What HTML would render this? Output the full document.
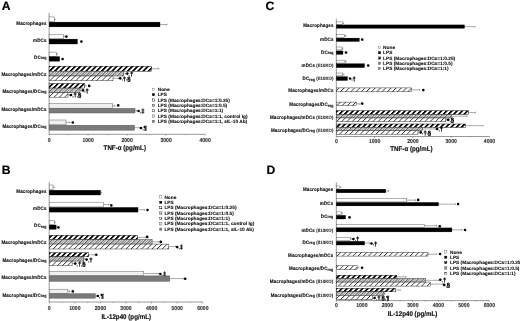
<!DOCTYPE html>
<html><head><meta charset="utf-8"><style>
html,body{margin:0;padding:0;background:#fff;}
svg{display:block;will-change:transform;}
text{font-family:"Liberation Sans", sans-serif;font-weight:bold;text-rendering:geometricPrecision;}
</style></head><body>
<svg width="520" height="321" viewBox="0 0 520 321">
<defs>
<pattern id="pThick" patternUnits="userSpaceOnUse" width="5.2" height="20" patternTransform="skewX(-45)">
<rect x="0" y="0" width="5.2" height="20" fill="#fff"/><rect x="0" y="0" width="2.4" height="20" fill="#000"/></pattern>
<pattern id="pFine" patternUnits="userSpaceOnUse" width="5.2" height="20" patternTransform="skewX(-45)">
<rect x="0" y="0" width="5.2" height="20" fill="#d8d8d8"/><rect x="0" y="0" width="1.2" height="20" fill="#555"/><rect x="2.6" y="0" width="0.9" height="20" fill="#888"/></pattern>
<pattern id="pLight" patternUnits="userSpaceOnUse" width="5.2" height="20" patternTransform="skewX(-45)">
<rect x="0" y="0" width="5.2" height="20" fill="#fff"/><rect x="0" y="0" width="1.0" height="20" fill="#333"/></pattern>
</defs>
<rect width="520" height="321" fill="#fff"/>
<g transform="translate(1.8,9.9) scale(0.1,0.1)"><text font-size="122" fill="#000" stroke="#000" stroke-width="2">A</text></g>
<line x1="49.1" y1="13" x2="49.1" y2="134.3" stroke="#333" stroke-width="0.5"/>
<rect x="49.1" y="16.9" width="5.1" height="4.9" fill="#fff" stroke="#555" stroke-width="0.45"/>
<line x1="54.2" y1="19.35" x2="55" y2="19.35" stroke="#444" stroke-width="0.45"/>
<line x1="55" y1="18.45" x2="55" y2="20.25" stroke="#444" stroke-width="0.45"/>
<rect x="49.1" y="22.1" width="110.9" height="4.8" fill="#000" stroke="#000" stroke-width="0.3"/>
<line x1="160" y1="24.5" x2="167" y2="24.5" stroke="#444" stroke-width="0.45"/>
<line x1="167" y1="23.6" x2="167" y2="25.4" stroke="#444" stroke-width="0.45"/>
<g transform="translate(46.6,24.6) scale(0.1,0.11)"><text font-size="45" fill="#111" letter-spacing="1.2" stroke="#111" stroke-width="1.2" text-anchor="end">Macrophages</text></g>
<rect x="49.1" y="34.3" width="14.2" height="4.5" fill="#fff" stroke="#555" stroke-width="0.45"/>
<line x1="63.3" y1="36.55" x2="64.3" y2="36.55" stroke="#444" stroke-width="0.45"/>
<line x1="64.3" y1="35.65" x2="64.3" y2="37.45" stroke="#444" stroke-width="0.45"/>
<circle cx="66.4" cy="36.6" r="1.3" fill="#000"/>
<rect x="49.1" y="39.1" width="28.4" height="4.9" fill="#000" stroke="#000" stroke-width="0.3"/>
<circle cx="81.4" cy="41.6" r="1.3" fill="#000"/>
<g transform="translate(46.6,41.6) scale(0.1,0.11)"><text font-size="45" fill="#111" letter-spacing="1.2" stroke="#111" stroke-width="1.2" text-anchor="end">mDCs</text></g>
<rect x="49.1" y="52.1" width="7.1" height="4.2" fill="#fff" stroke="#555" stroke-width="0.45"/>
<line x1="56.2" y1="54.2" x2="57.2" y2="54.2" stroke="#444" stroke-width="0.45"/>
<line x1="57.2" y1="53.3" x2="57.2" y2="55.1" stroke="#444" stroke-width="0.45"/>
<rect x="49.1" y="56.6" width="10.6" height="4.6" fill="#000" stroke="#000" stroke-width="0.3"/>
<circle cx="62.6" cy="59" r="1.3" fill="#000"/>
<g transform="translate(46.6,58.5) scale(0.1,0.11)"><text font-size="45" fill="#111" letter-spacing="1.2" stroke="#111" stroke-width="1.2" text-anchor="end">DC<tspan font-size="36" letter-spacing="0.5" stroke-width="1.2" dy="3">reg</tspan></text></g>
<rect x="49.1" y="66.2" width="102.4" height="5" fill="url(#pThick)" stroke="#000" stroke-width="0.45"/>
<line x1="151.5" y1="68.7" x2="158.7" y2="68.7" stroke="#444" stroke-width="0.45"/>
<line x1="158.7" y1="67.8" x2="158.7" y2="69.6" stroke="#444" stroke-width="0.45"/>
<rect x="49.1" y="71.2" width="74.6" height="4.8" fill="url(#pFine)" stroke="#222" stroke-width="0.45"/>
<line x1="123.7" y1="73.6" x2="125.5" y2="73.6" stroke="#444" stroke-width="0.45"/>
<line x1="125.5" y1="72.7" x2="125.5" y2="74.5" stroke="#444" stroke-width="0.45"/>
<circle cx="127.3" cy="73.6" r="1.3" fill="#000"/>
<g transform="translate(128.6,75.5) scale(0.1,0.1)"><text font-size="50" fill="#222" stroke="#222" stroke-width="1">,</text></g>
<g transform="translate(129.9,75.8) scale(0.1,0.1)"><text font-size="60" fill="#000" stroke="#000" stroke-width="2.8">†</text></g>
<rect x="49.1" y="76" width="63.9" height="4.7" fill="url(#pLight)" stroke="#222" stroke-width="0.45"/>
<line x1="113" y1="78.35" x2="118.7" y2="78.35" stroke="#444" stroke-width="0.45"/>
<line x1="118.7" y1="77.45" x2="118.7" y2="79.25" stroke="#444" stroke-width="0.45"/>
<circle cx="120.2" cy="78.35" r="1.3" fill="#000"/>
<g transform="translate(121.5,80.25) scale(0.1,0.1)"><text font-size="50" fill="#222" stroke="#222" stroke-width="1">,</text></g>
<g transform="translate(122.8,80.55) scale(0.1,0.1)"><text font-size="60" fill="#000" stroke="#000" stroke-width="2.8">†</text></g>
<g transform="translate(125.9,80.25) scale(0.1,0.1)"><text font-size="50" fill="#222" stroke="#222" stroke-width="1">,</text></g>
<g transform="translate(127.2,80.55) scale(0.1,0.1)"><text font-size="60" fill="#000" stroke="#000" stroke-width="2.8">§</text></g>
<g transform="translate(46.6,75.7) scale(0.1,0.11)"><text font-size="45" fill="#111" letter-spacing="1.2" stroke="#111" stroke-width="1.2" text-anchor="end">Macrophages/mDCs</text></g>
<rect x="49.1" y="83.5" width="35.3" height="4.6" fill="url(#pThick)" stroke="#000" stroke-width="0.45"/>
<line x1="84.4" y1="85.8" x2="86" y2="85.8" stroke="#444" stroke-width="0.45"/>
<line x1="86" y1="84.9" x2="86" y2="86.7" stroke="#444" stroke-width="0.45"/>
<circle cx="89.2" cy="85.9" r="1.3" fill="#000"/>
<rect x="49.1" y="88.1" width="30.9" height="4.6" fill="url(#pFine)" stroke="#222" stroke-width="0.45"/>
<line x1="80" y1="90.4" x2="81.5" y2="90.4" stroke="#444" stroke-width="0.45"/>
<line x1="81.5" y1="89.5" x2="81.5" y2="91.3" stroke="#444" stroke-width="0.45"/>
<circle cx="83" cy="90.4" r="1.3" fill="#000"/>
<g transform="translate(84.3,92.3) scale(0.1,0.1)"><text font-size="50" fill="#222" stroke="#222" stroke-width="1">,</text></g>
<g transform="translate(85.6,92.6) scale(0.1,0.1)"><text font-size="60" fill="#000" stroke="#000" stroke-width="2.8">†</text></g>
<rect x="49.1" y="92.7" width="18.9" height="4.5" fill="url(#pLight)" stroke="#222" stroke-width="0.45"/>
<line x1="68" y1="94.95" x2="69.5" y2="94.95" stroke="#444" stroke-width="0.45"/>
<line x1="69.5" y1="94.05" x2="69.5" y2="95.85" stroke="#444" stroke-width="0.45"/>
<circle cx="71" cy="94.95" r="1.3" fill="#000"/>
<g transform="translate(72.3,96.85) scale(0.1,0.1)"><text font-size="50" fill="#222" stroke="#222" stroke-width="1">,</text></g>
<g transform="translate(73.6,97.15) scale(0.1,0.1)"><text font-size="60" fill="#000" stroke="#000" stroke-width="2.8">†</text></g>
<g transform="translate(76.7,96.85) scale(0.1,0.1)"><text font-size="50" fill="#222" stroke="#222" stroke-width="1">,</text></g>
<g transform="translate(78,97.15) scale(0.1,0.1)"><text font-size="60" fill="#000" stroke="#000" stroke-width="2.8">§</text></g>
<g transform="translate(46.6,92.6) scale(0.1,0.11)"><text font-size="45" fill="#111" letter-spacing="1.2" stroke="#111" stroke-width="1.2" text-anchor="end">Macrophages/DC<tspan font-size="36" letter-spacing="0.5" stroke-width="1.2" dy="3">reg</tspan></text></g>
<rect x="49.1" y="103.7" width="63.5" height="4.5" fill="#f0f0f0" stroke="#666" stroke-width="0.5"/>
<line x1="112.6" y1="105.95" x2="115" y2="105.95" stroke="#444" stroke-width="0.45"/>
<line x1="115" y1="105.05" x2="115" y2="106.85" stroke="#444" stroke-width="0.45"/>
<circle cx="118.2" cy="105.4" r="1.3" fill="#000"/>
<rect x="49.1" y="108.4" width="85.9" height="4.6" fill="#7a7a7a" stroke="#555" stroke-width="0.45"/>
<line x1="135" y1="110.7" x2="136.9" y2="110.7" stroke="#444" stroke-width="0.45"/>
<line x1="136.9" y1="109.8" x2="136.9" y2="111.6" stroke="#444" stroke-width="0.45"/>
<circle cx="138.6" cy="111" r="1.3" fill="#000"/>
<g transform="translate(139.9,112.9) scale(0.1,0.1)"><text font-size="50" fill="#222" stroke="#222" stroke-width="1">,</text></g>
<g transform="translate(141.2,113.2) scale(0.1,0.1)"><text font-size="60" fill="#000" stroke="#000" stroke-width="2.8">‡</text></g>
<g transform="translate(46.6,110.7) scale(0.1,0.11)"><text font-size="45" fill="#111" letter-spacing="1.2" stroke="#111" stroke-width="1.2" text-anchor="end">Macrophages/mDCs</text></g>
<rect x="49.1" y="120" width="16.9" height="4.8" fill="#f0f0f0" stroke="#666" stroke-width="0.5"/>
<line x1="66" y1="122.4" x2="69.8" y2="122.4" stroke="#444" stroke-width="0.45"/>
<line x1="69.8" y1="121.5" x2="69.8" y2="123.3" stroke="#444" stroke-width="0.45"/>
<circle cx="72.8" cy="122.5" r="1.3" fill="#000"/>
<rect x="49.1" y="125.2" width="85.4" height="5" fill="#7a7a7a" stroke="#555" stroke-width="0.45"/>
<line x1="134.5" y1="127.7" x2="139.4" y2="127.7" stroke="#444" stroke-width="0.45"/>
<line x1="139.4" y1="126.8" x2="139.4" y2="128.6" stroke="#444" stroke-width="0.45"/>
<circle cx="141" cy="128" r="1.3" fill="#000"/>
<g transform="translate(142.3,129.9) scale(0.1,0.1)"><text font-size="50" fill="#222" stroke="#222" stroke-width="1">,</text></g>
<g transform="translate(143.6,130.2) scale(0.1,0.1)"><text font-size="60" fill="#000" stroke="#000" stroke-width="2.8">¶</text></g>
<g transform="translate(46.6,127.5) scale(0.1,0.11)"><text font-size="45" fill="#111" letter-spacing="1.2" stroke="#111" stroke-width="1.2" text-anchor="end">Macrophages/DC<tspan font-size="36" letter-spacing="0.5" stroke-width="1.2" dy="3">reg</tspan></text></g>
<line x1="49.1" y1="134.3" x2="205.1" y2="134.3" stroke="#333" stroke-width="0.5"/>
<line x1="49.1" y1="134.3" x2="49.1" y2="135.7" stroke="#333" stroke-width="0.4"/>
<line x1="68.6" y1="134.3" x2="68.6" y2="135.2" stroke="#333" stroke-width="0.4"/>
<line x1="88.1" y1="134.3" x2="88.1" y2="135.7" stroke="#333" stroke-width="0.4"/>
<line x1="107.6" y1="134.3" x2="107.6" y2="135.2" stroke="#333" stroke-width="0.4"/>
<line x1="127.1" y1="134.3" x2="127.1" y2="135.7" stroke="#333" stroke-width="0.4"/>
<line x1="146.6" y1="134.3" x2="146.6" y2="135.2" stroke="#333" stroke-width="0.4"/>
<line x1="166.1" y1="134.3" x2="166.1" y2="135.7" stroke="#333" stroke-width="0.4"/>
<line x1="185.6" y1="134.3" x2="185.6" y2="135.2" stroke="#333" stroke-width="0.4"/>
<line x1="205.1" y1="134.3" x2="205.1" y2="135.7" stroke="#333" stroke-width="0.4"/>
<g transform="translate(49.1,141.7) scale(0.1,0.11)"><text font-size="51" fill="#333" stroke="#333" stroke-width="1.2" text-anchor="middle">0</text></g>
<g transform="translate(88.1,141.7) scale(0.1,0.11)"><text font-size="51" fill="#333" stroke="#333" stroke-width="1.2" text-anchor="middle">1000</text></g>
<g transform="translate(127.1,141.7) scale(0.1,0.11)"><text font-size="51" fill="#333" stroke="#333" stroke-width="1.2" text-anchor="middle">2000</text></g>
<g transform="translate(166.1,141.7) scale(0.1,0.11)"><text font-size="51" fill="#333" stroke="#333" stroke-width="1.2" text-anchor="middle">3000</text></g>
<g transform="translate(205.1,141.7) scale(0.1,0.11)"><text font-size="51" fill="#333" stroke="#333" stroke-width="1.2" text-anchor="middle">4000</text></g>
<g transform="translate(103.6,150) scale(0.1,0.11)"><text font-size="62" fill="#111" stroke="#111" stroke-width="1.5">TNF-α (pg/mL)</text></g>
<rect x="152.3" y="88.15" width="2.3" height="2.3" fill="#fff" stroke="#555" stroke-width="0.35"/>
<g transform="translate(157.7,90.9) scale(0.1,0.1)"><text font-size="47.8" fill="#111" stroke="#111" stroke-width="1">None</text></g>
<rect x="152.3" y="93.5" width="2.3" height="2.3" fill="#000" stroke="#000" stroke-width="0.3"/>
<g transform="translate(157.7,96.25) scale(0.1,0.1)"><text font-size="47.8" fill="#111" stroke="#111" stroke-width="1">LPS</text></g>
<rect x="152.3" y="98.85" width="2.3" height="2.3" fill="url(#pThick)" stroke="#000" stroke-width="0.35"/>
<g transform="translate(157.7,101.6) scale(0.1,0.1)"><text font-size="47.8" fill="#111" stroke="#111" stroke-width="1">LPS (Macrophages:DCs=1:0.25)</text></g>
<rect x="152.3" y="104.2" width="2.3" height="2.3" fill="url(#pFine)" stroke="#222" stroke-width="0.35"/>
<g transform="translate(157.7,106.95) scale(0.1,0.1)"><text font-size="47.8" fill="#111" stroke="#111" stroke-width="1">LPS (Macrophages:DCs=1:0.5)</text></g>
<rect x="152.3" y="109.55" width="2.3" height="2.3" fill="url(#pLight)" stroke="#222" stroke-width="0.35"/>
<g transform="translate(157.7,112.3) scale(0.1,0.1)"><text font-size="47.8" fill="#111" stroke="#111" stroke-width="1">LPS (Macrophages:DCs=1:1)</text></g>
<rect x="152.3" y="114.9" width="2.3" height="2.3" fill="#f0f0f0" stroke="#666" stroke-width="0.5"/>
<g transform="translate(157.7,117.65) scale(0.1,0.1)"><text font-size="47.8" fill="#111" stroke="#111" stroke-width="1">LPS (Macrophages:DCs=1:1, control Ig)</text></g>
<rect x="152.3" y="120.25" width="2.3" height="2.3" fill="#7a7a7a" stroke="#555" stroke-width="0.35"/>
<g transform="translate(157.7,123) scale(0.1,0.1)"><text font-size="47.8" fill="#111" stroke="#111" stroke-width="1">LPS (Macrophages:DCs=1:1, sIL-10 Ab)</text></g>
<g transform="translate(1.8,173.7) scale(0.1,0.1)"><text font-size="122" fill="#000" stroke="#000" stroke-width="2">B</text></g>
<line x1="49.2" y1="182" x2="49.2" y2="302" stroke="#333" stroke-width="0.5"/>
<rect x="49.2" y="185" width="3.8" height="4.8" fill="#fff" stroke="#555" stroke-width="0.45"/>
<line x1="53" y1="187.4" x2="54" y2="187.4" stroke="#444" stroke-width="0.45"/>
<line x1="54" y1="186.5" x2="54" y2="188.3" stroke="#444" stroke-width="0.45"/>
<rect x="49.2" y="190.2" width="51.4" height="4.8" fill="#000" stroke="#000" stroke-width="0.3"/>
<line x1="100.6" y1="192.6" x2="101.5" y2="192.6" stroke="#444" stroke-width="0.45"/>
<line x1="101.5" y1="191.7" x2="101.5" y2="193.5" stroke="#444" stroke-width="0.45"/>
<g transform="translate(46.6,192.7) scale(0.1,0.11)"><text font-size="45" fill="#111" letter-spacing="1.2" stroke="#111" stroke-width="1.2" text-anchor="end">Macrophages</text></g>
<rect x="49.2" y="202.2" width="54.2" height="4.7" fill="#fff" stroke="#555" stroke-width="0.45"/>
<line x1="103.4" y1="204.55" x2="108.7" y2="204.55" stroke="#444" stroke-width="0.45"/>
<line x1="108.7" y1="203.65" x2="108.7" y2="205.45" stroke="#444" stroke-width="0.45"/>
<circle cx="111.3" cy="205.4" r="1.3" fill="#000"/>
<rect x="49.2" y="207.4" width="88.8" height="4.7" fill="#000" stroke="#000" stroke-width="0.3"/>
<line x1="138" y1="209.75" x2="144.4" y2="209.75" stroke="#444" stroke-width="0.45"/>
<line x1="144.4" y1="208.85" x2="144.4" y2="210.65" stroke="#444" stroke-width="0.45"/>
<circle cx="147.5" cy="210" r="1.3" fill="#000"/>
<g transform="translate(46.6,210.4) scale(0.1,0.11)"><text font-size="45" fill="#111" letter-spacing="1.2" stroke="#111" stroke-width="1.2" text-anchor="end">mDCs</text></g>
<rect x="49.2" y="220.3" width="5.1" height="4.3" fill="#fff" stroke="#555" stroke-width="0.45"/>
<line x1="54.3" y1="222.45" x2="55.2" y2="222.45" stroke="#444" stroke-width="0.45"/>
<line x1="55.2" y1="221.55" x2="55.2" y2="223.35" stroke="#444" stroke-width="0.45"/>
<rect x="49.2" y="225" width="7" height="4.3" fill="#000" stroke="#000" stroke-width="0.3"/>
<circle cx="58.4" cy="227.4" r="1.3" fill="#000"/>
<g transform="translate(46.6,227.3) scale(0.1,0.11)"><text font-size="45" fill="#111" letter-spacing="1.2" stroke="#111" stroke-width="1.2" text-anchor="end">DC<tspan font-size="36" letter-spacing="0.5" stroke-width="1.2" dy="3">reg</tspan></text></g>
<rect x="49.2" y="235.3" width="88.5" height="4.3" fill="url(#pThick)" stroke="#000" stroke-width="0.45"/>
<line x1="137.7" y1="237.45" x2="145.4" y2="237.45" stroke="#444" stroke-width="0.45"/>
<line x1="145.4" y1="236.55" x2="145.4" y2="238.35" stroke="#444" stroke-width="0.45"/>
<circle cx="147.2" cy="236.9" r="1.3" fill="#000"/>
<rect x="49.2" y="239.6" width="102.9" height="4.5" fill="url(#pFine)" stroke="#222" stroke-width="0.45"/>
<line x1="152.1" y1="241.85" x2="158.8" y2="241.85" stroke="#444" stroke-width="0.45"/>
<line x1="158.8" y1="240.95" x2="158.8" y2="242.75" stroke="#444" stroke-width="0.45"/>
<circle cx="160.8" cy="241.9" r="1.3" fill="#000"/>
<rect x="49.2" y="244.1" width="119.6" height="4.9" fill="url(#pLight)" stroke="#222" stroke-width="0.45"/>
<line x1="168.8" y1="246.55" x2="175.6" y2="246.55" stroke="#444" stroke-width="0.45"/>
<line x1="175.6" y1="245.65" x2="175.6" y2="247.45" stroke="#444" stroke-width="0.45"/>
<circle cx="177.2" cy="247.1" r="1.3" fill="#000"/>
<g transform="translate(178.5,249) scale(0.1,0.1)"><text font-size="50" fill="#222" stroke="#222" stroke-width="1">,</text></g>
<g transform="translate(179.8,249.3) scale(0.1,0.1)"><text font-size="60" fill="#000" stroke="#000" stroke-width="2.8">‡</text></g>
<g transform="translate(46.6,244.1) scale(0.1,0.11)"><text font-size="45" fill="#111" letter-spacing="1.2" stroke="#111" stroke-width="1.2" text-anchor="end">Macrophages/mDCs</text></g>
<rect x="49.2" y="252.7" width="39.5" height="4.1" fill="url(#pThick)" stroke="#000" stroke-width="0.45"/>
<line x1="88.7" y1="254.75" x2="94.4" y2="254.75" stroke="#444" stroke-width="0.45"/>
<line x1="94.4" y1="253.85" x2="94.4" y2="255.65" stroke="#444" stroke-width="0.45"/>
<circle cx="96.3" cy="254.8" r="1.3" fill="#000"/>
<rect x="49.2" y="256.8" width="34.6" height="4.3" fill="url(#pFine)" stroke="#222" stroke-width="0.45"/>
<line x1="83.8" y1="258.95" x2="85" y2="258.95" stroke="#444" stroke-width="0.45"/>
<line x1="85" y1="258.05" x2="85" y2="259.85" stroke="#444" stroke-width="0.45"/>
<circle cx="86.6" cy="259.6" r="1.3" fill="#000"/>
<g transform="translate(87.9,261.5) scale(0.1,0.1)"><text font-size="50" fill="#222" stroke="#222" stroke-width="1">,</text></g>
<g transform="translate(89.2,261.8) scale(0.1,0.1)"><text font-size="60" fill="#000" stroke="#000" stroke-width="2.8">†</text></g>
<rect x="49.2" y="261.1" width="22.9" height="4.7" fill="url(#pLight)" stroke="#222" stroke-width="0.45"/>
<line x1="72.1" y1="263.45" x2="74" y2="263.45" stroke="#444" stroke-width="0.45"/>
<line x1="74" y1="262.55" x2="74" y2="264.35" stroke="#444" stroke-width="0.45"/>
<circle cx="75.3" cy="263.6" r="1.3" fill="#000"/>
<g transform="translate(76.6,265.5) scale(0.1,0.1)"><text font-size="50" fill="#222" stroke="#222" stroke-width="1">,</text></g>
<g transform="translate(77.9,265.8) scale(0.1,0.1)"><text font-size="60" fill="#000" stroke="#000" stroke-width="2.8">†</text></g>
<g transform="translate(81,265.5) scale(0.1,0.1)"><text font-size="50" fill="#222" stroke="#222" stroke-width="1">,</text></g>
<g transform="translate(82.3,265.8) scale(0.1,0.1)"><text font-size="60" fill="#000" stroke="#000" stroke-width="2.8">§</text></g>
<g transform="translate(46.6,261.7) scale(0.1,0.11)"><text font-size="45" fill="#111" letter-spacing="1.2" stroke="#111" stroke-width="1.2" text-anchor="end">Macrophages/DC<tspan font-size="36" letter-spacing="0.5" stroke-width="1.2" dy="3">reg</tspan></text></g>
<rect x="49.2" y="271.5" width="94.6" height="4.1" fill="#f0f0f0" stroke="#666" stroke-width="0.5"/>
<line x1="143.8" y1="273.55" x2="159.2" y2="273.55" stroke="#444" stroke-width="0.45"/>
<line x1="159.2" y1="272.65" x2="159.2" y2="274.45" stroke="#444" stroke-width="0.45"/>
<circle cx="160.4" cy="274" r="1.3" fill="#000"/>
<g transform="translate(161.7,275.9) scale(0.1,0.1)"><text font-size="50" fill="#222" stroke="#222" stroke-width="1">,</text></g>
<g transform="translate(163,276.2) scale(0.1,0.1)"><text font-size="60" fill="#000" stroke="#000" stroke-width="2.8">‡</text></g>
<rect x="49.2" y="275.9" width="120.6" height="5.4" fill="#7a7a7a" stroke="#555" stroke-width="0.45"/>
<line x1="169.8" y1="278.6" x2="183.3" y2="278.6" stroke="#444" stroke-width="0.45"/>
<line x1="183.3" y1="277.7" x2="183.3" y2="279.5" stroke="#444" stroke-width="0.45"/>
<circle cx="185.2" cy="278.8" r="1.3" fill="#000"/>
<g transform="translate(46.6,279.2) scale(0.1,0.11)"><text font-size="45" fill="#111" letter-spacing="1.2" stroke="#111" stroke-width="1.2" text-anchor="end">Macrophages/mDCs</text></g>
<rect x="49.2" y="289.2" width="18.7" height="4.1" fill="#f0f0f0" stroke="#666" stroke-width="0.5"/>
<line x1="67.9" y1="291.25" x2="69.5" y2="291.25" stroke="#444" stroke-width="0.45"/>
<line x1="69.5" y1="290.35" x2="69.5" y2="292.15" stroke="#444" stroke-width="0.45"/>
<circle cx="72.8" cy="291.4" r="1.3" fill="#000"/>
<rect x="49.2" y="293.7" width="46" height="4.5" fill="#7a7a7a" stroke="#555" stroke-width="0.45"/>
<line x1="95.2" y1="295.95" x2="96.2" y2="295.95" stroke="#444" stroke-width="0.45"/>
<line x1="96.2" y1="295.05" x2="96.2" y2="296.85" stroke="#444" stroke-width="0.45"/>
<circle cx="97.8" cy="296" r="1.3" fill="#000"/>
<g transform="translate(99.1,297.9) scale(0.1,0.1)"><text font-size="50" fill="#222" stroke="#222" stroke-width="1">,</text></g>
<g transform="translate(100.4,298.2) scale(0.1,0.1)"><text font-size="60" fill="#000" stroke="#000" stroke-width="2.8">¶</text></g>
<g transform="translate(46.6,296.5) scale(0.1,0.11)"><text font-size="45" fill="#111" letter-spacing="1.2" stroke="#111" stroke-width="1.2" text-anchor="end">Macrophages/DC<tspan font-size="36" letter-spacing="0.5" stroke-width="1.2" dy="3">reg</tspan></text></g>
<line x1="49.2" y1="302" x2="202.8" y2="302" stroke="#333" stroke-width="0.5"/>
<line x1="49.2" y1="302" x2="49.2" y2="303.4" stroke="#333" stroke-width="0.4"/>
<line x1="62" y1="302" x2="62" y2="302.9" stroke="#333" stroke-width="0.4"/>
<line x1="74.8" y1="302" x2="74.8" y2="303.4" stroke="#333" stroke-width="0.4"/>
<line x1="87.6" y1="302" x2="87.6" y2="302.9" stroke="#333" stroke-width="0.4"/>
<line x1="100.4" y1="302" x2="100.4" y2="303.4" stroke="#333" stroke-width="0.4"/>
<line x1="113.2" y1="302" x2="113.2" y2="302.9" stroke="#333" stroke-width="0.4"/>
<line x1="126" y1="302" x2="126" y2="303.4" stroke="#333" stroke-width="0.4"/>
<line x1="138.8" y1="302" x2="138.8" y2="302.9" stroke="#333" stroke-width="0.4"/>
<line x1="151.6" y1="302" x2="151.6" y2="303.4" stroke="#333" stroke-width="0.4"/>
<line x1="164.4" y1="302" x2="164.4" y2="302.9" stroke="#333" stroke-width="0.4"/>
<line x1="177.2" y1="302" x2="177.2" y2="303.4" stroke="#333" stroke-width="0.4"/>
<line x1="190" y1="302" x2="190" y2="302.9" stroke="#333" stroke-width="0.4"/>
<line x1="202.8" y1="302" x2="202.8" y2="303.4" stroke="#333" stroke-width="0.4"/>
<g transform="translate(49.2,309.5) scale(0.1,0.11)"><text font-size="51" fill="#333" stroke="#333" stroke-width="1.2" text-anchor="middle">0</text></g>
<g transform="translate(74.8,309.5) scale(0.1,0.11)"><text font-size="51" fill="#333" stroke="#333" stroke-width="1.2" text-anchor="middle">1000</text></g>
<g transform="translate(100.4,309.5) scale(0.1,0.11)"><text font-size="51" fill="#333" stroke="#333" stroke-width="1.2" text-anchor="middle">2000</text></g>
<g transform="translate(126,309.5) scale(0.1,0.11)"><text font-size="51" fill="#333" stroke="#333" stroke-width="1.2" text-anchor="middle">3000</text></g>
<g transform="translate(151.6,309.5) scale(0.1,0.11)"><text font-size="51" fill="#333" stroke="#333" stroke-width="1.2" text-anchor="middle">4000</text></g>
<g transform="translate(177.2,309.5) scale(0.1,0.11)"><text font-size="51" fill="#333" stroke="#333" stroke-width="1.2" text-anchor="middle">5000</text></g>
<g transform="translate(202.8,309.5) scale(0.1,0.11)"><text font-size="51" fill="#333" stroke="#333" stroke-width="1.2" text-anchor="middle">6000</text></g>
<g transform="translate(101.4,318.7) scale(0.1,0.11)"><text font-size="62" fill="#111" stroke="#111" stroke-width="1.5">IL-12p40 (pg/mL)</text></g>
<rect x="159.6" y="195.75" width="2.3" height="2.3" fill="#fff" stroke="#555" stroke-width="0.35"/>
<g transform="translate(164.4,198.5) scale(0.1,0.1)"><text font-size="47.8" fill="#111" stroke="#111" stroke-width="1">None</text></g>
<rect x="159.6" y="201.15" width="2.3" height="2.3" fill="#000" stroke="#000" stroke-width="0.3"/>
<g transform="translate(164.4,203.9) scale(0.1,0.1)"><text font-size="47.8" fill="#111" stroke="#111" stroke-width="1">LPS</text></g>
<rect x="159.6" y="206.55" width="2.3" height="2.3" fill="url(#pThick)" stroke="#000" stroke-width="0.35"/>
<g transform="translate(164.4,209.3) scale(0.1,0.1)"><text font-size="47.8" fill="#111" stroke="#111" stroke-width="1">LPS (Macrophages:DCs=1:0.25)</text></g>
<rect x="159.6" y="211.85" width="2.3" height="2.3" fill="url(#pFine)" stroke="#222" stroke-width="0.35"/>
<g transform="translate(164.4,214.6) scale(0.1,0.1)"><text font-size="47.8" fill="#111" stroke="#111" stroke-width="1">LPS (Macrophages:DCs=1:0.5)</text></g>
<rect x="159.6" y="217.25" width="2.3" height="2.3" fill="url(#pLight)" stroke="#222" stroke-width="0.35"/>
<g transform="translate(164.4,220) scale(0.1,0.1)"><text font-size="47.8" fill="#111" stroke="#111" stroke-width="1">LPS (Macrophages:DCs=1:1)</text></g>
<rect x="159.6" y="222.65" width="2.3" height="2.3" fill="#f0f0f0" stroke="#666" stroke-width="0.5"/>
<g transform="translate(164.4,225.4) scale(0.1,0.1)"><text font-size="47.8" fill="#111" stroke="#111" stroke-width="1">LPS (Macrophages:DCs=1:1, control Ig)</text></g>
<rect x="159.6" y="228.05" width="2.3" height="2.3" fill="#7a7a7a" stroke="#555" stroke-width="0.35"/>
<g transform="translate(164.4,230.8) scale(0.1,0.1)"><text font-size="47.8" fill="#111" stroke="#111" stroke-width="1">LPS (Macrophages:DCs=1:1, sIL-10 Ab)</text></g>
<g transform="translate(265.6,10.1) scale(0.1,0.1)"><text font-size="122" fill="#000" stroke="#000" stroke-width="2">C</text></g>
<line x1="336.3" y1="18.7" x2="336.3" y2="136.5" stroke="#333" stroke-width="0.5"/>
<rect x="336.3" y="21.9" width="6.4" height="2.5" fill="#fff" stroke="#555" stroke-width="0.45"/>
<line x1="342.7" y1="23.15" x2="343.6" y2="23.15" stroke="#444" stroke-width="0.45"/>
<line x1="343.6" y1="22.25" x2="343.6" y2="24.05" stroke="#444" stroke-width="0.45"/>
<rect x="336.3" y="24.9" width="128.3" height="3.4" fill="#000" stroke="#000" stroke-width="0.3"/>
<line x1="464.6" y1="26.6" x2="475" y2="26.6" stroke="#444" stroke-width="0.45"/>
<line x1="475" y1="25.7" x2="475" y2="27.5" stroke="#444" stroke-width="0.45"/>
<g transform="translate(333.5,26.9) scale(0.1,0.11)"><text font-size="45" fill="#111" letter-spacing="1.2" stroke="#111" stroke-width="1.2" text-anchor="end">Macrophages</text></g>
<rect x="336.3" y="34.4" width="8.1" height="3.1" fill="#fff" stroke="#555" stroke-width="0.45"/>
<line x1="344.4" y1="35.95" x2="346" y2="35.95" stroke="#444" stroke-width="0.45"/>
<line x1="346" y1="35.05" x2="346" y2="36.85" stroke="#444" stroke-width="0.45"/>
<rect x="336.3" y="38.1" width="23.1" height="3.4" fill="#000" stroke="#000" stroke-width="0.3"/>
<circle cx="362.2" cy="39.6" r="1.3" fill="#000"/>
<g transform="translate(333.5,40.8) scale(0.1,0.11)"><text font-size="45" fill="#111" letter-spacing="1.2" stroke="#111" stroke-width="1.2" text-anchor="end">mDCs</text></g>
<rect x="336.3" y="47" width="5.7" height="2.9" fill="#fff" stroke="#555" stroke-width="0.45"/>
<line x1="342" y1="48.45" x2="342.8" y2="48.45" stroke="#444" stroke-width="0.45"/>
<line x1="342.8" y1="47.55" x2="342.8" y2="49.35" stroke="#444" stroke-width="0.45"/>
<rect x="336.3" y="50.9" width="6.7" height="3.5" fill="#000" stroke="#000" stroke-width="0.3"/>
<circle cx="346" cy="52.5" r="1.3" fill="#000"/>
<g transform="translate(333.5,54) scale(0.1,0.11)"><text font-size="45" fill="#111" letter-spacing="1.2" stroke="#111" stroke-width="1.2" text-anchor="end">DC<tspan font-size="36" letter-spacing="0.5" stroke-width="1.2" dy="3">reg</tspan></text></g>
<rect x="336.3" y="60.2" width="8.7" height="2.8" fill="#fff" stroke="#555" stroke-width="0.45"/>
<line x1="345" y1="61.6" x2="346" y2="61.6" stroke="#444" stroke-width="0.45"/>
<line x1="346" y1="60.7" x2="346" y2="62.5" stroke="#444" stroke-width="0.45"/>
<rect x="336.3" y="63.7" width="28.3" height="3.9" fill="#000" stroke="#000" stroke-width="0.3"/>
<circle cx="368.2" cy="65.5" r="1.3" fill="#000"/>
<g transform="translate(333.5,67.3) scale(0.1,0.11)"><text font-size="45" fill="#111" letter-spacing="1.2" stroke="#111" stroke-width="1.2" text-anchor="end">mDCs<tspan font-size="43" letter-spacing="0.8" stroke-width="0.8" fill="#222" stroke="#222"> (Il10KO)</tspan></text></g>
<rect x="336.3" y="73" width="6.5" height="2.8" fill="#fff" stroke="#555" stroke-width="0.45"/>
<line x1="342.8" y1="74.4" x2="344" y2="74.4" stroke="#444" stroke-width="0.45"/>
<line x1="344" y1="73.5" x2="344" y2="75.3" stroke="#444" stroke-width="0.45"/>
<rect x="336.3" y="76.6" width="11.2" height="3.9" fill="#000" stroke="#000" stroke-width="0.3"/>
<circle cx="350" cy="78.55" r="1.3" fill="#000"/>
<g transform="translate(351.3,80.45) scale(0.1,0.1)"><text font-size="50" fill="#222" stroke="#222" stroke-width="1">,</text></g>
<g transform="translate(352.6,80.75) scale(0.1,0.1)"><text font-size="60" fill="#000" stroke="#000" stroke-width="2.8">†</text></g>
<g transform="translate(333.5,80.2) scale(0.1,0.11)"><text font-size="45" fill="#111" letter-spacing="1.2" stroke="#111" stroke-width="1.2" text-anchor="end">DC<tspan font-size="36" letter-spacing="0.5" stroke-width="1.2" dy="3">reg</tspan><tspan dy="-3" font-size="43" letter-spacing="0.8" stroke-width="0.8" fill="#222" stroke="#222"> (Il10KO)</tspan></text></g>
<rect x="336.3" y="87.9" width="75.4" height="3.9" fill="url(#pLight)" stroke="#222" stroke-width="0.45"/>
<line x1="411.7" y1="89.85" x2="419.8" y2="89.85" stroke="#444" stroke-width="0.45"/>
<line x1="419.8" y1="88.95" x2="419.8" y2="90.75" stroke="#444" stroke-width="0.45"/>
<circle cx="423.3" cy="90.1" r="1.3" fill="#000"/>
<g transform="translate(333.5,91.9) scale(0.1,0.11)"><text font-size="45" fill="#111" letter-spacing="1.2" stroke="#111" stroke-width="1.2" text-anchor="end">Macrophages/mDCs</text></g>
<rect x="336.3" y="102.1" width="19.9" height="3.6" fill="url(#pLight)" stroke="#222" stroke-width="0.45"/>
<line x1="356.2" y1="103.9" x2="360" y2="103.9" stroke="#444" stroke-width="0.45"/>
<line x1="360" y1="103" x2="360" y2="104.8" stroke="#444" stroke-width="0.45"/>
<circle cx="362.2" cy="103.6" r="1.3" fill="#000"/>
<g transform="translate(333.5,106.3) scale(0.1,0.11)"><text font-size="45" fill="#111" letter-spacing="1.2" stroke="#111" stroke-width="1.2" text-anchor="end">Macrophages/DC<tspan font-size="36" letter-spacing="0.5" stroke-width="1.2" dy="3">reg</tspan></text></g>
<rect x="336.3" y="110.7" width="132" height="3.7" fill="url(#pThick)" stroke="#000" stroke-width="0.45"/>
<line x1="468.3" y1="112.55" x2="475.4" y2="112.55" stroke="#444" stroke-width="0.45"/>
<line x1="475.4" y1="111.65" x2="475.4" y2="113.45" stroke="#444" stroke-width="0.45"/>
<rect x="336.3" y="114.4" width="115.2" height="3.6" fill="url(#pFine)" stroke="#222" stroke-width="0.45"/>
<line x1="451.5" y1="116.2" x2="467" y2="116.2" stroke="#444" stroke-width="0.45"/>
<line x1="467" y1="115.3" x2="467" y2="117.1" stroke="#444" stroke-width="0.45"/>
<rect x="336.3" y="118" width="109.5" height="3.7" fill="url(#pLight)" stroke="#222" stroke-width="0.45"/>
<line x1="445.8" y1="119.85" x2="446.5" y2="119.85" stroke="#444" stroke-width="0.45"/>
<line x1="446.5" y1="118.95" x2="446.5" y2="120.75" stroke="#444" stroke-width="0.45"/>
<circle cx="448.2" cy="119.85" r="1.3" fill="#000"/>
<g transform="translate(449.5,121.75) scale(0.1,0.1)"><text font-size="50" fill="#222" stroke="#222" stroke-width="1">,</text></g>
<g transform="translate(450.8,122.05) scale(0.1,0.1)"><text font-size="60" fill="#000" stroke="#000" stroke-width="2.8">§</text></g>
<g transform="translate(333.5,118.6) scale(0.1,0.11)"><text font-size="45" fill="#111" letter-spacing="1.2" stroke="#111" stroke-width="1.2" text-anchor="end">Macrophages/mDCs<tspan font-size="43" letter-spacing="0.8" stroke-width="0.8" fill="#222" stroke="#222"> (Il10KO)</tspan></text></g>
<rect x="336.3" y="124" width="129.1" height="3.4" fill="url(#pThick)" stroke="#000" stroke-width="0.45"/>
<line x1="465.4" y1="125.7" x2="483" y2="125.7" stroke="#444" stroke-width="0.45"/>
<line x1="483" y1="124.8" x2="483" y2="126.6" stroke="#444" stroke-width="0.45"/>
<rect x="336.3" y="127.3" width="86.4" height="3.3" fill="url(#pFine)" stroke="#222" stroke-width="0.45"/>
<line x1="422.7" y1="128.95" x2="435.8" y2="128.95" stroke="#444" stroke-width="0.45"/>
<line x1="435.8" y1="128.05" x2="435.8" y2="129.85" stroke="#444" stroke-width="0.45"/>
<circle cx="437.2" cy="128.95" r="1.3" fill="#000"/>
<g transform="translate(438.5,130.85) scale(0.1,0.1)"><text font-size="50" fill="#222" stroke="#222" stroke-width="1">,</text></g>
<g transform="translate(439.8,131.15) scale(0.1,0.1)"><text font-size="60" fill="#000" stroke="#000" stroke-width="2.8">†</text></g>
<rect x="336.3" y="130.6" width="81.7" height="3.6" fill="url(#pLight)" stroke="#222" stroke-width="0.45"/>
<line x1="418" y1="132.4" x2="419" y2="132.4" stroke="#444" stroke-width="0.45"/>
<line x1="419" y1="131.5" x2="419" y2="133.3" stroke="#444" stroke-width="0.45"/>
<circle cx="420.8" cy="132.4" r="1.3" fill="#000"/>
<g transform="translate(422.1,134.3) scale(0.1,0.1)"><text font-size="50" fill="#222" stroke="#222" stroke-width="1">,</text></g>
<g transform="translate(423.4,134.6) scale(0.1,0.1)"><text font-size="60" fill="#000" stroke="#000" stroke-width="2.8">†</text></g>
<g transform="translate(426.5,134.3) scale(0.1,0.1)"><text font-size="50" fill="#222" stroke="#222" stroke-width="1">,</text></g>
<g transform="translate(427.8,134.6) scale(0.1,0.1)"><text font-size="60" fill="#000" stroke="#000" stroke-width="2.8">§</text></g>
<g transform="translate(333.5,131.7) scale(0.1,0.11)"><text font-size="45" fill="#111" letter-spacing="1.2" stroke="#111" stroke-width="1.2" text-anchor="end">Macrophages/DC<tspan font-size="36" letter-spacing="0.5" stroke-width="1.2" dy="3">reg</tspan><tspan dy="-3" font-size="43" letter-spacing="0.8" stroke-width="0.8" fill="#222" stroke="#222"> (Il10KO)</tspan></text></g>
<line x1="336.3" y1="136.5" x2="489.5" y2="136.5" stroke="#333" stroke-width="0.5"/>
<line x1="336.3" y1="136.5" x2="336.3" y2="137.9" stroke="#333" stroke-width="0.4"/>
<line x1="355.45" y1="136.5" x2="355.45" y2="137.4" stroke="#333" stroke-width="0.4"/>
<line x1="374.6" y1="136.5" x2="374.6" y2="137.9" stroke="#333" stroke-width="0.4"/>
<line x1="393.75" y1="136.5" x2="393.75" y2="137.4" stroke="#333" stroke-width="0.4"/>
<line x1="412.9" y1="136.5" x2="412.9" y2="137.9" stroke="#333" stroke-width="0.4"/>
<line x1="432.05" y1="136.5" x2="432.05" y2="137.4" stroke="#333" stroke-width="0.4"/>
<line x1="451.2" y1="136.5" x2="451.2" y2="137.9" stroke="#333" stroke-width="0.4"/>
<line x1="470.35" y1="136.5" x2="470.35" y2="137.4" stroke="#333" stroke-width="0.4"/>
<line x1="489.5" y1="136.5" x2="489.5" y2="137.9" stroke="#333" stroke-width="0.4"/>
<g transform="translate(336.3,142.5) scale(0.1,0.11)"><text font-size="51" fill="#333" stroke="#333" stroke-width="1.2" text-anchor="middle">0</text></g>
<g transform="translate(374.6,142.5) scale(0.1,0.11)"><text font-size="51" fill="#333" stroke="#333" stroke-width="1.2" text-anchor="middle">1000</text></g>
<g transform="translate(412.9,142.5) scale(0.1,0.11)"><text font-size="51" fill="#333" stroke="#333" stroke-width="1.2" text-anchor="middle">2000</text></g>
<g transform="translate(451.2,142.5) scale(0.1,0.11)"><text font-size="51" fill="#333" stroke="#333" stroke-width="1.2" text-anchor="middle">3000</text></g>
<g transform="translate(489.5,142.5) scale(0.1,0.11)"><text font-size="51" fill="#333" stroke="#333" stroke-width="1.2" text-anchor="middle">4000</text></g>
<g transform="translate(390.3,151.4) scale(0.1,0.11)"><text font-size="62" fill="#111" stroke="#111" stroke-width="1.5">TNF-α (pg/mL)</text></g>
<rect x="378.4" y="46.25" width="2.3" height="2.3" fill="#fff" stroke="#555" stroke-width="0.35"/>
<g transform="translate(383.1,49) scale(0.1,0.1)"><text font-size="47.8" fill="#111" stroke="#111" stroke-width="1">None</text></g>
<rect x="378.4" y="51.55" width="2.3" height="2.3" fill="#000" stroke="#000" stroke-width="0.3"/>
<g transform="translate(383.1,54.3) scale(0.1,0.1)"><text font-size="47.8" fill="#111" stroke="#111" stroke-width="1">LPS</text></g>
<rect x="378.4" y="56.85" width="2.3" height="2.3" fill="url(#pThick)" stroke="#000" stroke-width="0.35"/>
<g transform="translate(383.1,59.6) scale(0.1,0.1)"><text font-size="47.8" fill="#111" stroke="#111" stroke-width="1">LPS (Macrophages:DCs=1:0.25)</text></g>
<rect x="378.4" y="62.15" width="2.3" height="2.3" fill="url(#pFine)" stroke="#222" stroke-width="0.35"/>
<g transform="translate(383.1,64.9) scale(0.1,0.1)"><text font-size="47.8" fill="#111" stroke="#111" stroke-width="1">LPS (Macrophages:DCs=1:0.5)</text></g>
<rect x="378.4" y="67.45" width="2.3" height="2.3" fill="url(#pLight)" stroke="#222" stroke-width="0.35"/>
<g transform="translate(383.1,70.2) scale(0.1,0.1)"><text font-size="47.8" fill="#111" stroke="#111" stroke-width="1">LPS (Macrophages:DCs=1:1)</text></g>
<g transform="translate(266.4,173.8) scale(0.1,0.1)"><text font-size="122" fill="#000" stroke="#000" stroke-width="2">D</text></g>
<line x1="336.3" y1="182.4" x2="336.3" y2="300.6" stroke="#333" stroke-width="0.5"/>
<rect x="336.3" y="185.9" width="3.4" height="2.8" fill="#fff" stroke="#555" stroke-width="0.45"/>
<line x1="339.7" y1="187.3" x2="341" y2="187.3" stroke="#444" stroke-width="0.45"/>
<line x1="341" y1="186.4" x2="341" y2="188.2" stroke="#444" stroke-width="0.45"/>
<rect x="336.3" y="189.2" width="49.5" height="3.6" fill="#000" stroke="#000" stroke-width="0.3"/>
<line x1="385.8" y1="191" x2="388.4" y2="191" stroke="#444" stroke-width="0.45"/>
<line x1="388.4" y1="190.1" x2="388.4" y2="191.9" stroke="#444" stroke-width="0.45"/>
<g transform="translate(333.3,191.4) scale(0.1,0.11)"><text font-size="45" fill="#111" letter-spacing="1.2" stroke="#111" stroke-width="1.2" text-anchor="end">Macrophages</text></g>
<rect x="336.3" y="198.4" width="70.5" height="3.5" fill="#fff" stroke="#555" stroke-width="0.45"/>
<line x1="406.8" y1="200.15" x2="415.6" y2="200.15" stroke="#444" stroke-width="0.45"/>
<line x1="415.6" y1="199.25" x2="415.6" y2="201.05" stroke="#444" stroke-width="0.45"/>
<circle cx="418.2" cy="199.9" r="1.3" fill="#000"/>
<rect x="336.3" y="202.4" width="102.3" height="3.5" fill="#000" stroke="#000" stroke-width="0.3"/>
<line x1="438.6" y1="204.15" x2="455.3" y2="204.15" stroke="#444" stroke-width="0.45"/>
<line x1="455.3" y1="203.25" x2="455.3" y2="205.05" stroke="#444" stroke-width="0.45"/>
<circle cx="458.1" cy="204.1" r="1.3" fill="#000"/>
<g transform="translate(333.3,204.7) scale(0.1,0.11)"><text font-size="45" fill="#111" letter-spacing="1.2" stroke="#111" stroke-width="1.2" text-anchor="end">mDCs</text></g>
<rect x="336.3" y="211.9" width="4.9" height="2.7" fill="#fff" stroke="#555" stroke-width="0.45"/>
<line x1="341.2" y1="213.25" x2="342.2" y2="213.25" stroke="#444" stroke-width="0.45"/>
<line x1="342.2" y1="212.35" x2="342.2" y2="214.15" stroke="#444" stroke-width="0.45"/>
<rect x="336.3" y="215.3" width="9.3" height="3.7" fill="#000" stroke="#000" stroke-width="0.3"/>
<circle cx="349.5" cy="217.4" r="1.3" fill="#000"/>
<g transform="translate(333.3,217.8) scale(0.1,0.11)"><text font-size="45" fill="#111" letter-spacing="1.2" stroke="#111" stroke-width="1.2" text-anchor="end">DC<tspan font-size="36" letter-spacing="0.5" stroke-width="1.2" dy="3">reg</tspan></text></g>
<rect x="336.3" y="224.3" width="88.3" height="2.9" fill="#fff" stroke="#555" stroke-width="0.45"/>
<line x1="424.6" y1="225.75" x2="436.6" y2="225.75" stroke="#444" stroke-width="0.45"/>
<line x1="436.6" y1="224.85" x2="436.6" y2="226.65" stroke="#444" stroke-width="0.45"/>
<circle cx="439.7" cy="226.2" r="1.3" fill="#000"/>
<rect x="336.3" y="227.9" width="115.6" height="4" fill="#000" stroke="#000" stroke-width="0.3"/>
<line x1="451.9" y1="229.9" x2="461.7" y2="229.9" stroke="#444" stroke-width="0.45"/>
<line x1="461.7" y1="229" x2="461.7" y2="230.8" stroke="#444" stroke-width="0.45"/>
<circle cx="465" cy="230" r="1.3" fill="#000"/>
<g transform="translate(333.3,231.8) scale(0.1,0.11)"><text font-size="45" fill="#111" letter-spacing="1.2" stroke="#111" stroke-width="1.2" text-anchor="end">mDCs<tspan font-size="43" letter-spacing="0.8" stroke-width="0.8" fill="#222" stroke="#222"> (Il10KO)</tspan></text></g>
<rect x="336.3" y="237.3" width="14.3" height="3" fill="#fff" stroke="#555" stroke-width="0.45"/>
<line x1="350.6" y1="238.8" x2="352.2" y2="238.8" stroke="#444" stroke-width="0.45"/>
<line x1="352.2" y1="237.9" x2="352.2" y2="239.7" stroke="#444" stroke-width="0.45"/>
<circle cx="353.4" cy="239.1" r="1.3" fill="#000"/>
<g transform="translate(354.7,241) scale(0.1,0.1)"><text font-size="50" fill="#222" stroke="#222" stroke-width="1">,</text></g>
<g transform="translate(356,241.3) scale(0.1,0.1)"><text font-size="60" fill="#000" stroke="#000" stroke-width="2.8">†</text></g>
<rect x="336.3" y="241.3" width="28.3" height="3.7" fill="#000" stroke="#000" stroke-width="0.3"/>
<line x1="364.6" y1="243.15" x2="369.3" y2="243.15" stroke="#444" stroke-width="0.45"/>
<line x1="369.3" y1="242.25" x2="369.3" y2="244.05" stroke="#444" stroke-width="0.45"/>
<circle cx="371.5" cy="243.5" r="1.3" fill="#000"/>
<g transform="translate(372.8,245.4) scale(0.1,0.1)"><text font-size="50" fill="#222" stroke="#222" stroke-width="1">,</text></g>
<g transform="translate(374.1,245.7) scale(0.1,0.1)"><text font-size="60" fill="#000" stroke="#000" stroke-width="2.8">†</text></g>
<g transform="translate(333.3,244.1) scale(0.1,0.11)"><text font-size="45" fill="#111" letter-spacing="1.2" stroke="#111" stroke-width="1.2" text-anchor="end">DC<tspan font-size="36" letter-spacing="0.5" stroke-width="1.2" dy="3">reg</tspan><tspan dy="-3" font-size="43" letter-spacing="0.8" stroke-width="0.8" fill="#222" stroke="#222"> (Il10KO)</tspan></text></g>
<rect x="336.3" y="252.3" width="91.7" height="3.8" fill="url(#pLight)" stroke="#222" stroke-width="0.45"/>
<line x1="428" y1="254.2" x2="436.7" y2="254.2" stroke="#444" stroke-width="0.45"/>
<line x1="436.7" y1="253.3" x2="436.7" y2="255.1" stroke="#444" stroke-width="0.45"/>
<circle cx="440" cy="254" r="1.3" fill="#000"/>
<g transform="translate(333.3,256.9) scale(0.1,0.11)"><text font-size="45" fill="#111" letter-spacing="1.2" stroke="#111" stroke-width="1.2" text-anchor="end">Macrophages/mDCs</text></g>
<rect x="336.3" y="265.7" width="20.8" height="3.9" fill="url(#pLight)" stroke="#222" stroke-width="0.45"/>
<line x1="357.1" y1="267.65" x2="358.8" y2="267.65" stroke="#444" stroke-width="0.45"/>
<line x1="358.8" y1="266.75" x2="358.8" y2="268.55" stroke="#444" stroke-width="0.45"/>
<circle cx="362.1" cy="267.7" r="1.3" fill="#000"/>
<g transform="translate(333.3,270.4) scale(0.1,0.11)"><text font-size="45" fill="#111" letter-spacing="1.2" stroke="#111" stroke-width="1.2" text-anchor="end">Macrophages/DC<tspan font-size="36" letter-spacing="0.5" stroke-width="1.2" dy="3">reg</tspan></text></g>
<rect x="336.3" y="275.2" width="60.5" height="3.3" fill="url(#pThick)" stroke="#000" stroke-width="0.45"/>
<line x1="396.8" y1="276.85" x2="406" y2="276.85" stroke="#444" stroke-width="0.45"/>
<line x1="406" y1="275.95" x2="406" y2="277.75" stroke="#444" stroke-width="0.45"/>
<rect x="336.3" y="278.5" width="89.1" height="3.6" fill="url(#pFine)" stroke="#222" stroke-width="0.45"/>
<line x1="425.4" y1="280.3" x2="438.8" y2="280.3" stroke="#444" stroke-width="0.45"/>
<line x1="438.8" y1="279.4" x2="438.8" y2="281.2" stroke="#444" stroke-width="0.45"/>
<circle cx="440.3" cy="279.8" r="1.3" fill="#000"/>
<g transform="translate(441.6,281.7) scale(0.1,0.1)"><text font-size="50" fill="#222" stroke="#222" stroke-width="1">,</text></g>
<g transform="translate(442.9,282) scale(0.1,0.1)"><text font-size="60" fill="#000" stroke="#000" stroke-width="2.8">†</text></g>
<rect x="336.3" y="282.1" width="93.9" height="4" fill="url(#pLight)" stroke="#222" stroke-width="0.45"/>
<line x1="430.2" y1="284.1" x2="442.7" y2="284.1" stroke="#444" stroke-width="0.45"/>
<line x1="442.7" y1="283.2" x2="442.7" y2="285" stroke="#444" stroke-width="0.45"/>
<circle cx="444.2" cy="284.9" r="1.3" fill="#000"/>
<g transform="translate(445.5,286.8) scale(0.1,0.1)"><text font-size="50" fill="#222" stroke="#222" stroke-width="1">,</text></g>
<g transform="translate(446.8,287.1) scale(0.1,0.1)"><text font-size="60" fill="#000" stroke="#000" stroke-width="2.8">§</text></g>
<g transform="translate(333.3,282.6) scale(0.1,0.11)"><text font-size="45" fill="#111" letter-spacing="1.2" stroke="#111" stroke-width="1.2" text-anchor="end">Macrophages/mDCs<tspan font-size="43" letter-spacing="0.8" stroke-width="0.8" fill="#222" stroke="#222"> (Il10KO)</tspan></text></g>
<rect x="336.3" y="288.3" width="59.1" height="3.5" fill="url(#pThick)" stroke="#000" stroke-width="0.45"/>
<line x1="395.4" y1="290.05" x2="400.2" y2="290.05" stroke="#444" stroke-width="0.45"/>
<line x1="400.2" y1="289.15" x2="400.2" y2="290.95" stroke="#444" stroke-width="0.45"/>
<rect x="336.3" y="291.8" width="47.7" height="3.6" fill="url(#pFine)" stroke="#222" stroke-width="0.45"/>
<line x1="384" y1="293.6" x2="385" y2="293.6" stroke="#444" stroke-width="0.45"/>
<line x1="385" y1="292.7" x2="385" y2="294.5" stroke="#444" stroke-width="0.45"/>
<rect x="336.3" y="295.4" width="36.3" height="4.3" fill="url(#pLight)" stroke="#222" stroke-width="0.45"/>
<circle cx="374.6" cy="297.9" r="1.3" fill="#000"/>
<g transform="translate(375.9,299.8) scale(0.1,0.1)"><text font-size="50" fill="#222" stroke="#222" stroke-width="1">,</text></g>
<g transform="translate(377.2,300.1) scale(0.1,0.1)"><text font-size="60" fill="#000" stroke="#000" stroke-width="2.8">†</text></g>
<g transform="translate(380.3,299.8) scale(0.1,0.1)"><text font-size="50" fill="#222" stroke="#222" stroke-width="1">,</text></g>
<g transform="translate(381.6,300.1) scale(0.1,0.1)"><text font-size="60" fill="#000" stroke="#000" stroke-width="2.8">§</text></g>
<g transform="translate(384.7,299.8) scale(0.1,0.1)"><text font-size="50" fill="#222" stroke="#222" stroke-width="1">,</text></g>
<g transform="translate(386,300.1) scale(0.1,0.1)"><text font-size="60" fill="#000" stroke="#000" stroke-width="2.8">¶</text></g>
<g transform="translate(333.3,296.6) scale(0.1,0.11)"><text font-size="45" fill="#111" letter-spacing="1.2" stroke="#111" stroke-width="1.2" text-anchor="end">Macrophages/DC<tspan font-size="36" letter-spacing="0.5" stroke-width="1.2" dy="3">reg</tspan><tspan dy="-3" font-size="43" letter-spacing="0.8" stroke-width="0.8" fill="#222" stroke="#222"> (Il10KO)</tspan></text></g>
<line x1="336.3" y1="300.6" x2="489.3" y2="300.6" stroke="#333" stroke-width="0.5"/>
<line x1="336.3" y1="300.6" x2="336.3" y2="302" stroke="#333" stroke-width="0.4"/>
<line x1="349.05" y1="300.6" x2="349.05" y2="301.5" stroke="#333" stroke-width="0.4"/>
<line x1="361.8" y1="300.6" x2="361.8" y2="302" stroke="#333" stroke-width="0.4"/>
<line x1="374.55" y1="300.6" x2="374.55" y2="301.5" stroke="#333" stroke-width="0.4"/>
<line x1="387.3" y1="300.6" x2="387.3" y2="302" stroke="#333" stroke-width="0.4"/>
<line x1="400.05" y1="300.6" x2="400.05" y2="301.5" stroke="#333" stroke-width="0.4"/>
<line x1="412.8" y1="300.6" x2="412.8" y2="302" stroke="#333" stroke-width="0.4"/>
<line x1="425.55" y1="300.6" x2="425.55" y2="301.5" stroke="#333" stroke-width="0.4"/>
<line x1="438.3" y1="300.6" x2="438.3" y2="302" stroke="#333" stroke-width="0.4"/>
<line x1="451.05" y1="300.6" x2="451.05" y2="301.5" stroke="#333" stroke-width="0.4"/>
<line x1="463.8" y1="300.6" x2="463.8" y2="302" stroke="#333" stroke-width="0.4"/>
<line x1="476.55" y1="300.6" x2="476.55" y2="301.5" stroke="#333" stroke-width="0.4"/>
<line x1="489.3" y1="300.6" x2="489.3" y2="302" stroke="#333" stroke-width="0.4"/>
<g transform="translate(336.3,306.7) scale(0.1,0.11)"><text font-size="51" fill="#333" stroke="#333" stroke-width="1.2" text-anchor="middle">0</text></g>
<g transform="translate(361.8,306.7) scale(0.1,0.11)"><text font-size="51" fill="#333" stroke="#333" stroke-width="1.2" text-anchor="middle">1000</text></g>
<g transform="translate(387.3,306.7) scale(0.1,0.11)"><text font-size="51" fill="#333" stroke="#333" stroke-width="1.2" text-anchor="middle">2000</text></g>
<g transform="translate(412.8,306.7) scale(0.1,0.11)"><text font-size="51" fill="#333" stroke="#333" stroke-width="1.2" text-anchor="middle">3000</text></g>
<g transform="translate(438.3,306.7) scale(0.1,0.11)"><text font-size="51" fill="#333" stroke="#333" stroke-width="1.2" text-anchor="middle">4000</text></g>
<g transform="translate(463.8,306.7) scale(0.1,0.11)"><text font-size="51" fill="#333" stroke="#333" stroke-width="1.2" text-anchor="middle">5000</text></g>
<g transform="translate(489.3,306.7) scale(0.1,0.11)"><text font-size="51" fill="#333" stroke="#333" stroke-width="1.2" text-anchor="middle">6000</text></g>
<g transform="translate(387.7,316.2) scale(0.1,0.11)"><text font-size="62" fill="#111" stroke="#111" stroke-width="1.5">IL-12p40 (pg/mL)</text></g>
<rect x="444.6" y="250.75" width="2.3" height="2.3" fill="#fff" stroke="#555" stroke-width="0.35"/>
<g transform="translate(450,253.5) scale(0.1,0.1)"><text font-size="47.8" fill="#111" stroke="#111" stroke-width="1">None</text></g>
<rect x="444.6" y="256.05" width="2.3" height="2.3" fill="#000" stroke="#000" stroke-width="0.3"/>
<g transform="translate(450,258.8) scale(0.1,0.1)"><text font-size="47.8" fill="#111" stroke="#111" stroke-width="1">LPS</text></g>
<rect x="444.6" y="261.45" width="2.3" height="2.3" fill="url(#pThick)" stroke="#000" stroke-width="0.35"/>
<g transform="translate(450,264.2) scale(0.1,0.1)"><text font-size="47.8" fill="#111" stroke="#111" stroke-width="1">LPS (Macrophages:DCs=1:0.25)</text></g>
<rect x="444.6" y="266.85" width="2.3" height="2.3" fill="url(#pFine)" stroke="#222" stroke-width="0.35"/>
<g transform="translate(450,269.6) scale(0.1,0.1)"><text font-size="47.8" fill="#111" stroke="#111" stroke-width="1">LPS (Macrophages:DCs=1:0.5)</text></g>
<rect x="444.6" y="272.25" width="2.3" height="2.3" fill="url(#pLight)" stroke="#222" stroke-width="0.35"/>
<g transform="translate(450,275) scale(0.1,0.1)"><text font-size="47.8" fill="#111" stroke="#111" stroke-width="1">LPS (Macrophages:DCs=1:1)</text></g>
</svg>
</body></html>
